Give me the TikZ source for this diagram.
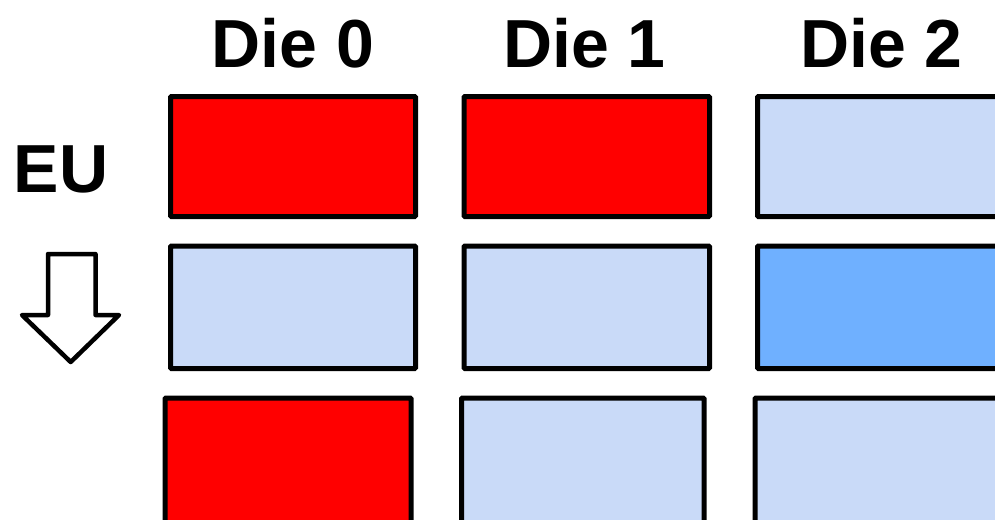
\documentclass[tikz,border=0pt]{standalone}
\usepackage{fontspec}
\setmainfont{Liberation Sans}
\definecolor{boxred}{HTML}{FF0000}
\definecolor{boxlight}{HTML}{C9DAF8}
\definecolor{boxmid}{HTML}{6FB0FF}
\begin{document}
\begin{tikzpicture}[x=1pt,y=-1pt,
  cell/.style={draw=black, line width=5pt, rounded corners=1pt, rectangle, inner sep=0pt, outer sep=0pt},
  lbl/.style={font=\fontsize{68}{80}\selectfont\bfseries, inner sep=0pt, anchor=base},
  arrowshape/.style={draw=black, fill=white, line width=4.5pt, line join=round}]
\useasboundingbox (0,0) rectangle (995,519);
\clip (0,0) rectangle (995,519);
\fill[white] (0,0) rectangle (995,519);
% headers
\node[lbl] (h0) at (293,67) {Die 0};
\node[lbl] (h1) at (584.5,67) {Die 1};
\node[lbl] (h2) at (881.5,67) {Die 2};
\node[lbl] (eu) at (61,192.5) {EU};
% row 1
\node[cell, fill=boxred, minimum width=245pt, minimum height=120pt] (r1c0) at (293,156.5) {};
\node[cell, fill=boxred, minimum width=245.5pt, minimum height=120pt] (r1c1) at (586.75,156.5) {};
\node[cell, fill=boxlight, minimum width=245pt, minimum height=120pt] (r1c2) at (880,156.5) {};
% row 2
\node[cell, fill=boxlight, minimum width=245pt, minimum height=122.5pt] (r2c0) at (293,307.25) {};
\node[cell, fill=boxlight, minimum width=245.5pt, minimum height=122.5pt] (r2c1) at (586.75,307.25) {};
\node[cell, fill=boxmid, minimum width=245pt, minimum height=122.5pt] (r2c2) at (880,307.25) {};
% row 3
\node[cell, fill=boxred, minimum width=246pt, minimum height=130pt] (r3c0) at (288,463) {};
\node[cell, fill=boxlight, minimum width=242.5pt, minimum height=130pt] (r3c1) at (582.75,463) {};
\node[cell, fill=boxlight, minimum width=245pt, minimum height=130pt] (r3c2) at (877.5,463) {};
% down arrow
\draw[arrowshape] (48,254) -- (95.5,254) -- (95.5,315) -- (119,315) -- (70.7,362) -- (22,315) -- (48,315) -- cycle;
\end{tikzpicture}
\end{document}
